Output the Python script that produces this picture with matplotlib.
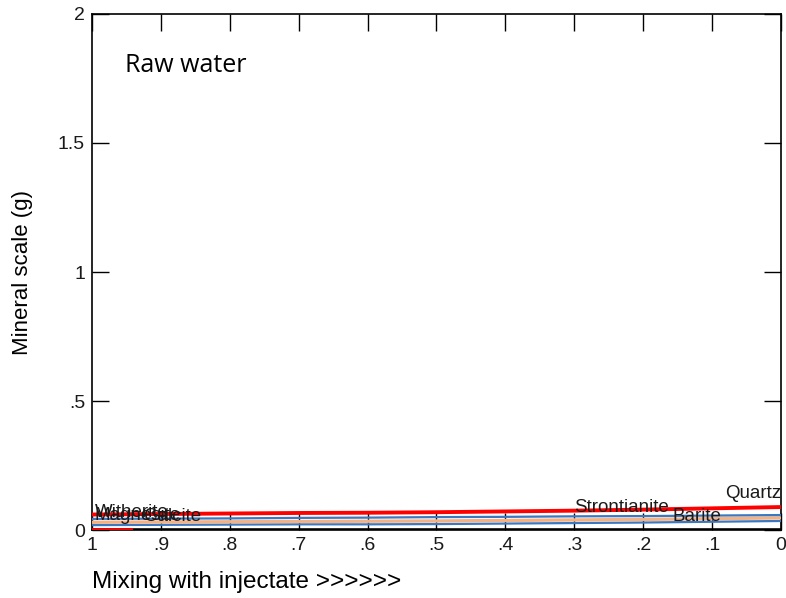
import matplotlib
matplotlib.use("Agg")
import matplotlib.pyplot as plt

plt.rcParams["font.family"] = ["Liberation Sans", "DejaVu Sans"]

# mixing fraction of raw water (1 = pure raw water, 0 = pure injectate)
mix = [1.0, 0.9, 0.8, 0.7, 0.6, 0.5, 0.4, 0.3, 0.2, 0.1, 0.0]

# precipitated mineral mass (g)
quartz = [0.060, 0.062, 0.064, 0.066, 0.067, 0.069, 0.072, 0.075, 0.079, 0.084, 0.089]
strontianite = [0.043, 0.044, 0.045, 0.047, 0.048, 0.050, 0.051, 0.053, 0.054, 0.056, 0.058]
barite = [0.030, 0.031, 0.032, 0.033, 0.034, 0.035, 0.037, 0.039, 0.041, 0.044, 0.047]
calcite = [0.019, 0.020, 0.021, 0.022, 0.022, 0.023, 0.025, 0.027, 0.029, 0.032, 0.035]
witherite = [0.0, 0.0, 0.0, 0.0, 0.0, 0.0, 0.0, 0.0, 0.0, 0.0, 0.0]
magnesite_mix = [1.0, 0.94]
magnesite = [0.0, 0.0]

xticks = [1.0, 0.9, 0.8, 0.7, 0.6, 0.5, 0.4, 0.3, 0.2, 0.1, 0.0]
xticklabels = ["1", ".9", ".8", ".7", ".6", ".5", ".4", ".3", ".2", ".1", "0"]
yticks = [0, 0.5, 1, 1.5, 2]
yticklabels = ["0", ".5", "1", "1.5", "2"]

fig = plt.figure(figsize=(7.86, 5.98), dpi=100)
ax = fig.add_axes([0.117, 0.1137, 0.8766, 0.8629])

ax.plot(mix, witherite, color="black", lw=2.6, solid_capstyle="butt", zorder=3)
ax.plot(magnesite_mix, magnesite, color="#ff0000", lw=2.6, solid_capstyle="butt", zorder=4)
ax.plot(mix, calcite, color="#3a78c2", lw=1.6, zorder=3)
ax.plot(mix, barite, color="#f4b183", lw=2.4, zorder=3)
ax.plot(mix, strontianite, color="#3a78c2", lw=1.6, zorder=3)
ax.plot(mix, quartz, color="#ff0000", lw=2.8, zorder=3)

# curve labels, left-end ones sit on top of each other
lab = dict(fontsize=13.5, color="#1a1a1a", zorder=5, va="center")
ax.text(0.0, 0.143, "Quartz", ha="right", **lab)
ax.text(0.30, 0.086, "Strontianite", ha="left", **lab)
ax.text(0.158, 0.054, "Barite", ha="left", **lab)
ax.text(0.996, 0.066, "Witherite", ha="left", **lab)
ax.text(0.996, 0.056, "Magnesite", ha="left", **lab)
ax.text(0.925, 0.052, "Calcite", ha="left", **lab)

ax.text(0.952, 1.80, "Raw water", fontsize=18, ha="left", va="center",
        family=["Open Sans", "Liberation Sans"])

ax.set_xlim(1, 0)
ax.set_ylim(0, 2)
ax.set_xticks(xticks)
ax.set_xticklabels(xticklabels)
ax.set_yticks(yticks)
ax.set_yticklabels(yticklabels)
ax.tick_params(direction="in", length=12, width=1, top=True, right=True,
               labelsize=14, colors="black", pad=6)
ax.tick_params(axis="x", labelcolor="#1a1a1a", pad=5)
ax.tick_params(axis="y", labelcolor="#1a1a1a", pad=5)
for s in ax.spines.values():
    s.set_linewidth(1.2)

ax.set_ylabel("Mineral scale (g)", fontsize=16, labelpad=18)
ax.set_xlabel("Mixing with injectate >>>>>>", fontsize=17.5, loc="left", labelpad=12)

fig.savefig("out.png", dpi=100)
